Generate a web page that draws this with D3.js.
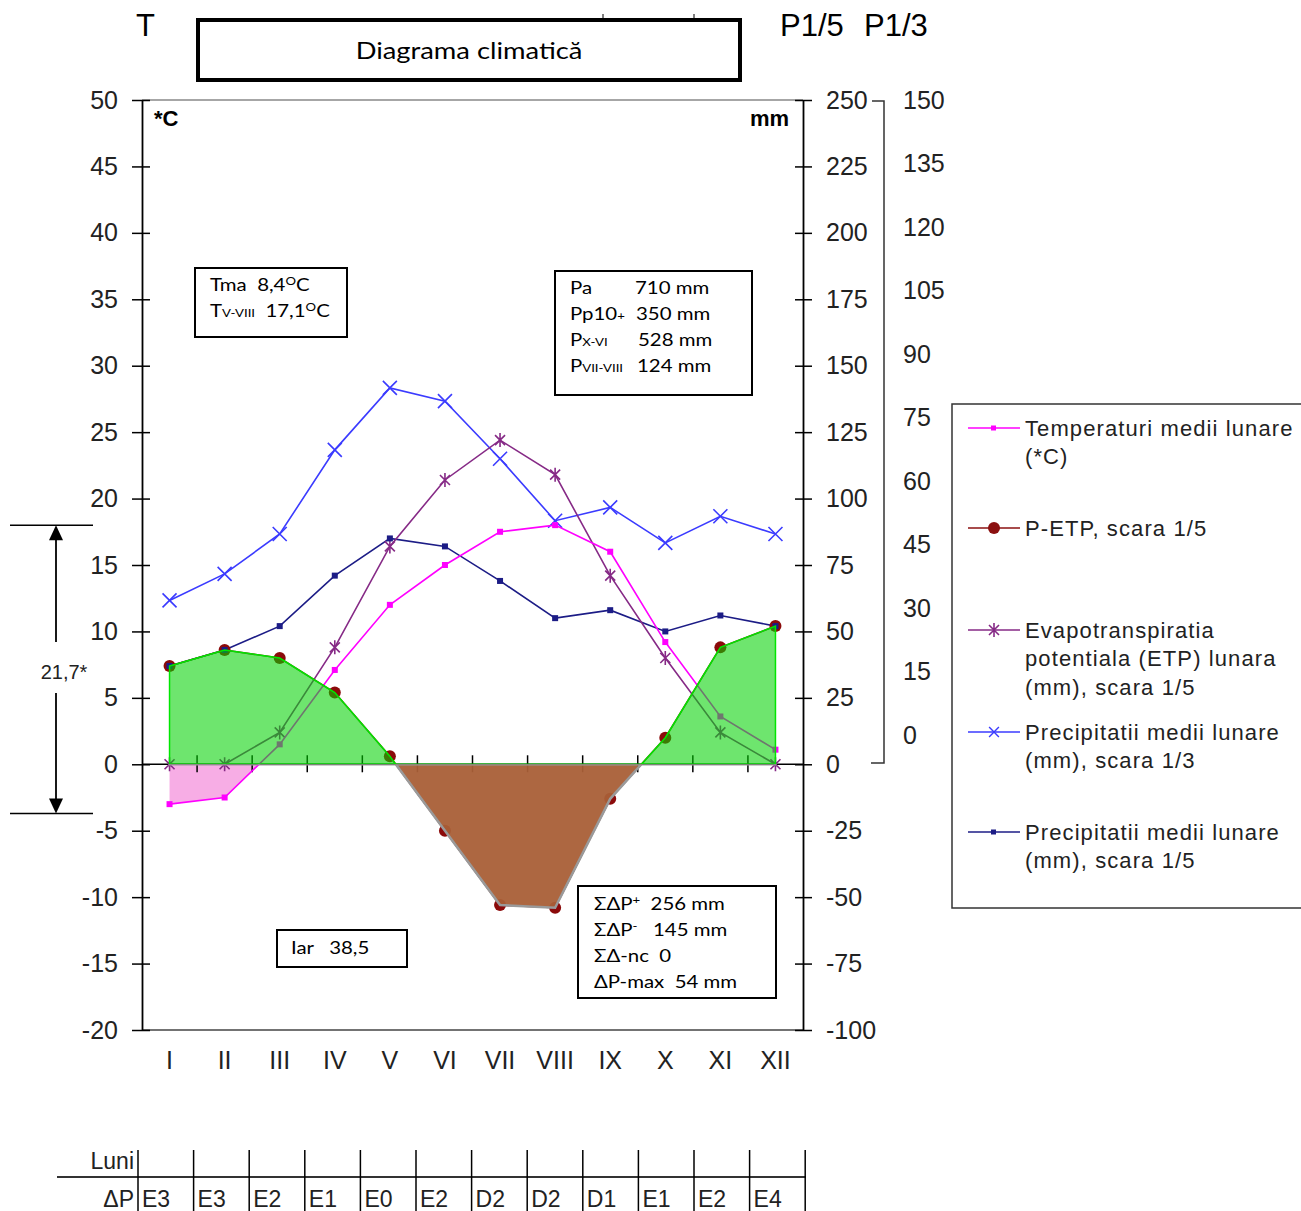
<!DOCTYPE html>
<html lang="ro">
<head>
<meta charset="utf-8">
<title>Diagrama climatică</title>
<script src="https://cdnjs.cloudflare.com/ajax/libs/d3/7.8.5/d3.min.js"></script>
<style>
  body { margin: 0; background: #fff; }
  svg text { font-family: "Liberation Sans", Arial, sans-serif; white-space: pre; }
  .cal { font-family: Lato, "Open Sans", sans-serif; }
</style>
</head>
<body>
<div id="chart"></div>
<script>
// luni si valori citite de pe diagrama
var months = ["I","II","III","IV","V","VI","VII","VIII","IX","X","XI","XII"];
var temp = [-3.0, -2.5, 1.5, 7.1, 12.0, 15.0, 17.5, 18.0, 16.0, 9.2, 3.6, 1.1];   // *C
var precip = [37, 43, 52, 71, 85, 82, 69, 55, 58, 50, 56, 52];                       // mm
var etp = [0, 0, 12, 44, 82, 107, 122, 109, 71, 40, 12, 0];                          // mm
var pEtp = [37, 43, 40, 27, 3, -25, -53, -54, -13, 10, 44, 52];                       // mm
var deficit = ["E3","E3","E2","E1","E0","E2","D2","D2","D1","E1","E2","E4"];
var tTicks = d3.range(-20, 51, 5);
var mmTicks = d3.range(-100, 251, 25);
var p3Ticks = d3.range(0, 151, 15);
var amplit = [18, -3.7];   // 21,7*

var W = 1301, H = 1211;
var svg = d3.select("#chart").append("svg").attr("width", W).attr("height", H);

var x = d3.scalePoint().domain(months).range([142, 803]).padding(0.5);
var yT = d3.scaleLinear().domain([-20, 50]).range([1030, 100]);
var yMM = d3.scaleLinear().domain([-100, 250]).range([1030, 100]);
var yP3 = d3.scaleLinear().domain([-60, 150]).range([1030, 100]);   // scara 1/3
var yP3lab = d3.scaleLinear().domain([0, 150]).range([735, 100]);
var step = x.step();
var plain = function(d) { return String(d); };

// text Calibri-like, intins pe orizontala
function calText(px, py, size, sx) {
  return svg.append("text").attr("class", "cal")
    .attr("transform", "translate(" + px + "," + py + ") scale(" + (sx || 1.2) + ",1)")
    .attr("font-size", size);
}

// antet
svg.append("text").attr("x", 136).attr("y", 36).attr("font-size", 31).text("T");
svg.append("text").attr("x", 780).attr("y", 36).attr("font-size", 31).text("P1/5");
svg.append("text").attr("x", 864).attr("y", 36).attr("font-size", 31).text("P1/3");
svg.append("line").attr("x1", 603).attr("x2", 603).attr("y1", 14).attr("y2", 20).attr("stroke", "#000");
svg.append("line").attr("x1", 694).attr("x2", 694).attr("y1", 14).attr("y2", 20).attr("stroke", "#000");
svg.append("rect").attr("x", 198).attr("y", 20).attr("width", 542).attr("height", 60)
  .attr("fill", "#fff").attr("stroke", "#000").attr("stroke-width", 4);
calText(469, 59, 24, 1.14).attr("text-anchor", "middle").text("Diagrama climatică");

// cadru
svg.append("line").attr("x1", 142).attr("x2", 803).attr("y1", yT(50)).attr("y2", yT(50)).attr("stroke", "#888").attr("stroke-width", 1.5);
svg.append("line").attr("x1", 142).attr("x2", 803).attr("y1", yT(-20)).attr("y2", yT(-20)).attr("stroke", "#444").attr("stroke-width", 1.5);

var axL = svg.append("g").attr("transform", "translate(142,0)")
  .call(d3.axisLeft(yT).tickValues(tTicks).tickFormat(plain).tickSizeOuter(0).tickSizeInner(10));
axL.selectAll(".tick line").attr("x1", -10).attr("x2", 8).attr("stroke-width", 1.5);
axL.selectAll(".tick text").attr("x", -24).attr("font-size", 25).attr("font-family", "Liberation Sans, Arial").attr("fill", "#222");
axL.select(".domain").attr("stroke-width", 1.8);

var axR = svg.append("g").attr("transform", "translate(803,0)")
  .call(d3.axisRight(yMM).tickValues(mmTicks).tickFormat(plain).tickSizeOuter(0).tickSizeInner(9));
axR.selectAll(".tick line").attr("x1", -8).attr("x2", 9).attr("stroke-width", 1.5);
axR.selectAll(".tick text").attr("x", 23).attr("font-size", 25).attr("font-family", "Liberation Sans, Arial").attr("fill", "#222");
axR.select(".domain").attr("stroke-width", 1.8);

// a treia axa (P1/3)
svg.append("g").selectAll("text").data(p3Ticks).join("text")
  .attr("x", 903).attr("y", function(d) { return yP3lab(d); }).attr("dy", "0.35em")
  .attr("font-size", 25).attr("fill", "#222").text(plain);
svg.append("path").attr("d", "M872,101H884V763H871").attr("fill", "none").attr("stroke", "#333").attr("stroke-width", 1.5);

svg.append("text").attr("x", 154).attr("y", 126).attr("font-size", 22).attr("font-weight", "bold").text("*C");
svg.append("text").attr("x", 789).attr("y", 126).attr("text-anchor", "end").attr("font-size", 22).attr("font-weight", "bold").text("mm");

// luni
svg.append("g").selectAll("text").data(months).join("text")
  .attr("x", function(d) { return x(d); }).attr("y", 1069).attr("text-anchor", "middle")
  .attr("font-size", 25).attr("fill", "#222").text(plain);

// zone
var clipPos = svg.append("clipPath").attr("id", "pos");
clipPos.append("rect").attr("x", 0).attr("y", 0).attr("width", W).attr("height", yMM(0));
var clipNeg = svg.append("clipPath").attr("id", "neg");
clipNeg.append("rect").attr("x", 0).attr("y", yMM(0)).attr("width", W).attr("height", H);

var areaT = d3.area().x(function(d, i) { return x(months[i]); }).y0(yT(0)).y1(function(d) { return yT(d); });
var areaP = d3.area().x(function(d, i) { return x(months[i]); }).y0(yMM(0)).y1(function(d) { return yMM(d); });

svg.append("path").datum(temp).attr("d", areaT).attr("clip-path", "url(#neg)")
  .attr("fill", "#f06ad0").attr("fill-opacity", 0.55);

// linia de zero
svg.append("line").attr("x1", 142).attr("x2", 803).attr("y1", yT(0)).attr("y2", yT(0)).attr("stroke", "#000").attr("stroke-width", 1.5);
svg.append("g").selectAll("line").data(d3.range(1, 12)).join("line")
  .attr("x1", function(i) { return 142 + i * step; }).attr("x2", function(i) { return 142 + i * step; })
  .attr("y1", yT(0) - 9).attr("y2", yT(0) + 8).attr("stroke", "#000").attr("stroke-width", 1.5);

function lineOf(scale) {
  return d3.line().x(function(d, i) { return x(months[i]); }).y(function(d) { return scale(d); });
}
var crossPath = "M-7,-7L7,7M-7,7L7,-7";
var starPath = "M-5,-5L5,5M-5,5L5,-5M0,-7L0,7";

// P scara 1/3
svg.append("path").datum(precip).attr("d", lineOf(yP3))
  .attr("fill", "none").attr("stroke", "#3b3bff").attr("stroke-width", 1.6);
svg.append("g").selectAll("path").data(precip).join("path")
  .attr("transform", function(d, i) { return "translate(" + x(months[i]) + "," + yP3(d) + ")"; })
  .attr("d", crossPath).attr("stroke", "#3b3bff").attr("stroke-width", 1.6);

// P scara 1/5
svg.append("path").datum(precip).attr("d", lineOf(yMM))
  .attr("fill", "none").attr("stroke", "#1c1c86").attr("stroke-width", 1.6);

// ETP
svg.append("path").datum(etp).attr("d", lineOf(yMM))
  .attr("fill", "none").attr("stroke", "#862a86").attr("stroke-width", 1.6);
svg.append("g").selectAll("path").data(etp).join("path")
  .attr("transform", function(d, i) { return "translate(" + x(months[i]) + "," + yMM(d) + ")"; })
  .attr("d", starPath).attr("stroke", "#862a86").attr("stroke-width", 1.6);

// temperatura
svg.append("path").datum(temp).attr("d", lineOf(yT))
  .attr("fill", "none").attr("stroke", "#ff00ff").attr("stroke-width", 1.6);
svg.append("g").selectAll("rect").data(temp).join("rect")
  .attr("x", function(d, i) { return x(months[i]) - 3; }).attr("y", function(d) { return yT(d) - 3; })
  .attr("width", 6).attr("height", 6).attr("fill", "#ff00ff");

// P-ETP
svg.append("path").datum(pEtp).attr("d", lineOf(yMM))
  .attr("fill", "none").attr("stroke", "#8b1010").attr("stroke-width", 1.6);
svg.append("g").selectAll("circle").data(pEtp).join("circle")
  .attr("cx", function(d, i) { return x(months[i]); }).attr("cy", function(d) { return yMM(d); })
  .attr("r", 6).attr("fill", "#8b0a0a");
svg.append("g").selectAll("rect").data(precip).join("rect")
  .attr("x", function(d, i) { return x(months[i]) - 3; }).attr("y", function(d) { return yMM(d) - 3; })
  .attr("width", 6).attr("height", 6).attr("fill", "#1c1c86");

// excedent / deficit
svg.append("path").datum(pEtp).attr("d", areaP).attr("clip-path", "url(#pos)")
  .attr("fill", "#00d200").attr("fill-opacity", 0.57).attr("stroke", "#00e600").attr("stroke-width", 1.5);
svg.append("path").datum(pEtp).attr("d", areaP).attr("clip-path", "url(#neg)")
  .attr("fill", "#a95f37").attr("fill-opacity", 0.95).attr("stroke", "#9a9a9a").attr("stroke-width", 2.5);

// amplitudine
var ya = yT(amplit[0]), yb = yT(amplit[1]);
svg.append("line").attr("x1", 10).attr("x2", 93).attr("y1", ya).attr("y2", ya).attr("stroke", "#000").attr("stroke-width", 1.5);
svg.append("line").attr("x1", 10).attr("x2", 93).attr("y1", yb).attr("y2", yb).attr("stroke", "#000").attr("stroke-width", 1.5);
svg.append("line").attr("x1", 56).attr("x2", 56).attr("y1", ya + 12).attr("y2", 642).attr("stroke", "#000").attr("stroke-width", 1.8);
svg.append("line").attr("x1", 56).attr("x2", 56).attr("y1", 693).attr("y2", yb - 12).attr("stroke", "#000").attr("stroke-width", 1.8);
svg.append("path").attr("d", "M56," + ya + "l-7,15h14z").attr("fill", "#000");
svg.append("path").attr("d", "M56," + yb + "l-7,-15h14z").attr("fill", "#000");
svg.append("text").attr("x", 64).attr("y", 679).attr("text-anchor", "middle").attr("font-size", 20).attr("fill", "#222").text("21,7*");

// casete text
function box(x0, y0, w, h) {
  svg.append("rect").attr("x", x0).attr("y", y0).attr("width", w).attr("height", h)
    .attr("fill", "#fff").attr("stroke", "#000").attr("stroke-width", 2);
}
box(195, 268, 152, 69);
var t1 = calText(210, 291, 17);
t1.append("tspan").text("Tma  8,4");
t1.append("tspan").attr("font-size", 11).attr("dy", -6).text("O");
t1.append("tspan").attr("dy", 6).text("C");
var t2 = calText(210, 317, 17);
t2.append("tspan").text("T");
t2.append("tspan").attr("font-size", 11).text("V-VIII");
t2.append("tspan").text("  17,1");
t2.append("tspan").attr("font-size", 11).attr("dy", -6).text("O");
t2.append("tspan").attr("dy", 6).text("C");

box(555, 271, 197, 124);
var pl = [["Pa", "", "710 mm", 635], ["Pp10", "+", "350 mm", 636], ["P", "X-VI", "528 mm", 638], ["P", "VII-VIII", "124 mm", 637]];
pl.forEach(function(r, i) {
  var t = calText(570, 294 + i * 26, 17);
  t.append("tspan").text(r[0]);
  if (r[1]) t.append("tspan").attr("font-size", 11).text(r[1]);
  calText(r[3], 294 + i * 26, 17).text(r[2]);
});

box(277, 930, 130, 37);
calText(291, 954, 17).text("Iar   38,5");

box(578, 886, 198, 112);
var sl = [["ΣΔP", "+", "  256 mm"], ["ΣΔP", "-", "   145 mm"], ["ΣΔ-nc  0", "", ""], ["ΔP-max  54 mm", "", ""]];
sl.forEach(function(r, i) {
  var t = calText(594, 910 + i * 26, 17);
  t.append("tspan").text(r[0]);
  if (r[1]) t.append("tspan").attr("font-size", 11).attr("dy", -6).text(r[1]);
  if (r[2]) t.append("tspan").attr("dy", r[1] ? 6 : 0).text(r[2]);
});

// legenda
svg.append("rect").attr("x", 952).attr("y", 404).attr("width", 370).attr("height", 504)
  .attr("fill", "#fff").attr("stroke", "#333").attr("stroke-width", 1.5);
var leg = [
  { c: "#ff00ff", m: "sq", y: 428, lines: ["Temperaturi medii lunare", "(*C)"] },
  { c: "#8b1010", m: "dot", y: 528, lines: ["P-ETP, scara 1/5"] },
  { c: "#862a86", m: "star", y: 630, lines: ["Evapotranspiratia", "potentiala (ETP) lunara", "(mm), scara 1/5"] },
  { c: "#3b3bff", m: "x", y: 732, lines: ["Precipitatii medii lunare", "(mm), scara 1/3"] },
  { c: "#1c1c86", m: "sq", y: 832, lines: ["Precipitatii medii lunare", "(mm), scara 1/5"] }
];
leg.forEach(function(e) {
  var g = svg.append("g");
  g.append("line").attr("x1", 968).attr("x2", 1020).attr("y1", e.y).attr("y2", e.y).attr("stroke", e.c).attr("stroke-width", 1.6);
  if (e.m === "sq") g.append("rect").attr("x", 991).attr("y", e.y - 2.5).attr("width", 5).attr("height", 5).attr("fill", e.c);
  if (e.m === "dot") g.append("circle").attr("cx", 994).attr("cy", e.y).attr("r", 6).attr("fill", e.c);
  if (e.m === "star") g.append("path").attr("transform", "translate(994," + e.y + ")").attr("d", starPath).attr("stroke", e.c).attr("stroke-width", 1.6);
  if (e.m === "x") g.append("path").attr("transform", "translate(994," + e.y + ") scale(0.7)").attr("d", crossPath).attr("stroke", e.c).attr("stroke-width", 2);
  e.lines.forEach(function(l, j) {
    g.append("text").attr("x", 1025).attr("y", e.y + j * 28.5).attr("dy", "0.35em").attr("font-size", 22)
      .attr("letter-spacing", 1.1).attr("fill", "#222").text(l);
  });
});

// tabel luni
var colX = d3.range(0, 13).map(function(i) { return 138 + i * 55.6; });
svg.append("line").attr("x1", 57).attr("x2", 806).attr("y1", 1177).attr("y2", 1177).attr("stroke", "#333").attr("stroke-width", 2);
svg.append("g").selectAll("line").data(colX).join("line")
  .attr("x1", function(d) { return d; }).attr("x2", function(d) { return d; })
  .attr("y1", 1150).attr("y2", 1211).attr("stroke", "#000").attr("stroke-width", 1.5);
svg.append("text").attr("x", 134).attr("y", 1169).attr("text-anchor", "end").attr("font-size", 23)
  .attr("font-family", "Liberation Sans Narrow, Arial Narrow, sans-serif").attr("fill", "#222").text("Luni");
svg.append("text").attr("x", 134).attr("y", 1207).attr("text-anchor", "end").attr("font-size", 23)
  .attr("font-family", "Liberation Sans Narrow, Arial Narrow, sans-serif").attr("fill", "#222").text("ΔP");
svg.append("g").selectAll("text").data(deficit).join("text")
  .attr("x", function(d, i) { return colX[i] + 4; }).attr("y", 1207).attr("font-size", 23)
  .attr("font-family", "Liberation Sans Narrow, Arial Narrow, sans-serif").attr("fill", "#222").text(plain);
</script>
</body>
</html>
